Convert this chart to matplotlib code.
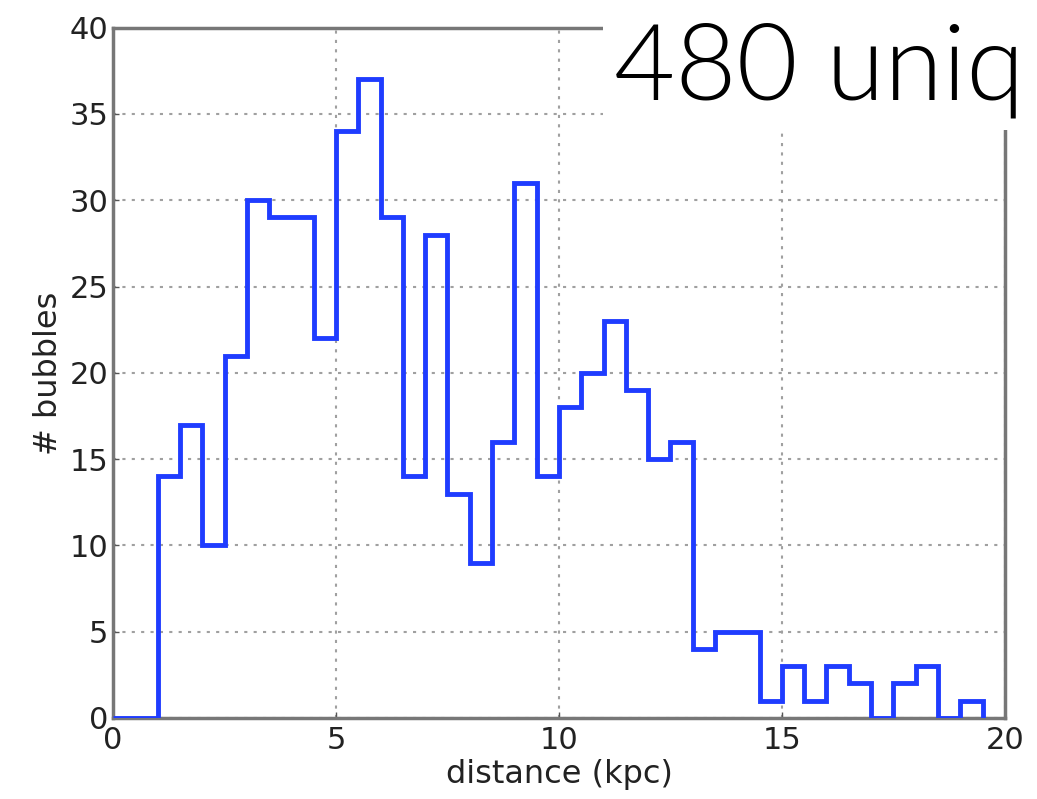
import numpy as np
import matplotlib

matplotlib.use("Agg")
import matplotlib.pyplot as plt

# histogram of bubble distances, 0.5 kpc bins
bin_edges = np.arange(0.0, 19.51, 0.5)
counts = [0, 0, 14, 17, 10, 21, 30, 29, 29, 22,
          34, 37, 29, 14, 28, 13, 9, 16, 31, 14,
          18, 20, 23, 19, 15, 16, 4, 5, 5, 1,
          3, 1, 3, 2, 0, 2, 3, 0, 1]
x_ticks = [0, 5, 10, 15, 20]
y_ticks = [0, 5, 10, 15, 20, 25, 30, 35, 40]
note = "480 uniq"

fig = plt.figure(figsize=(10.37, 7.99), dpi=100)
ax = fig.add_axes([0.109, 0.1014, 0.860, 0.864])

ax.stairs(counts, bin_edges, baseline=0, fill=False,
          color="#1f3cff", linewidth=3.5, zorder=3)

ax.set_xlim(0, 20)
ax.set_ylim(0, 40)
ax.set_xticks(x_ticks)
ax.set_yticks(y_ticks)
ax.grid(True, linestyle=(0, (1.5, 3)), color="#a0a0a0", linewidth=1.5)
ax.tick_params(direction="in", length=4, width=1, colors="#555555",
               labelsize=22, labelcolor="#222222")
ax.tick_params(axis="x", pad=6)
for spine in ax.spines.values():
    spine.set_color("#777777")
    spine.set_linewidth(2.5)

ax.set_xlabel("distance (kpc)", fontsize=23, color="#222222", labelpad=3)
ax.set_ylabel("# bubbles", fontsize=23, color="#222222", labelpad=4)

# white label box over the upper-right corner
fig.patches.append(plt.Rectangle((603 / 1037, 1 - 130 / 799), 1 - 603 / 1037, 130 / 799,
                                 transform=fig.transFigure, facecolor="white",
                                 edgecolor="none", zorder=10))
fig.text(614 / 1037, 1 - 100 / 799, note, fontsize=76, family="Lato",
         fontweight=300, color="black", zorder=11)

fig.savefig("out.png", dpi=100)
